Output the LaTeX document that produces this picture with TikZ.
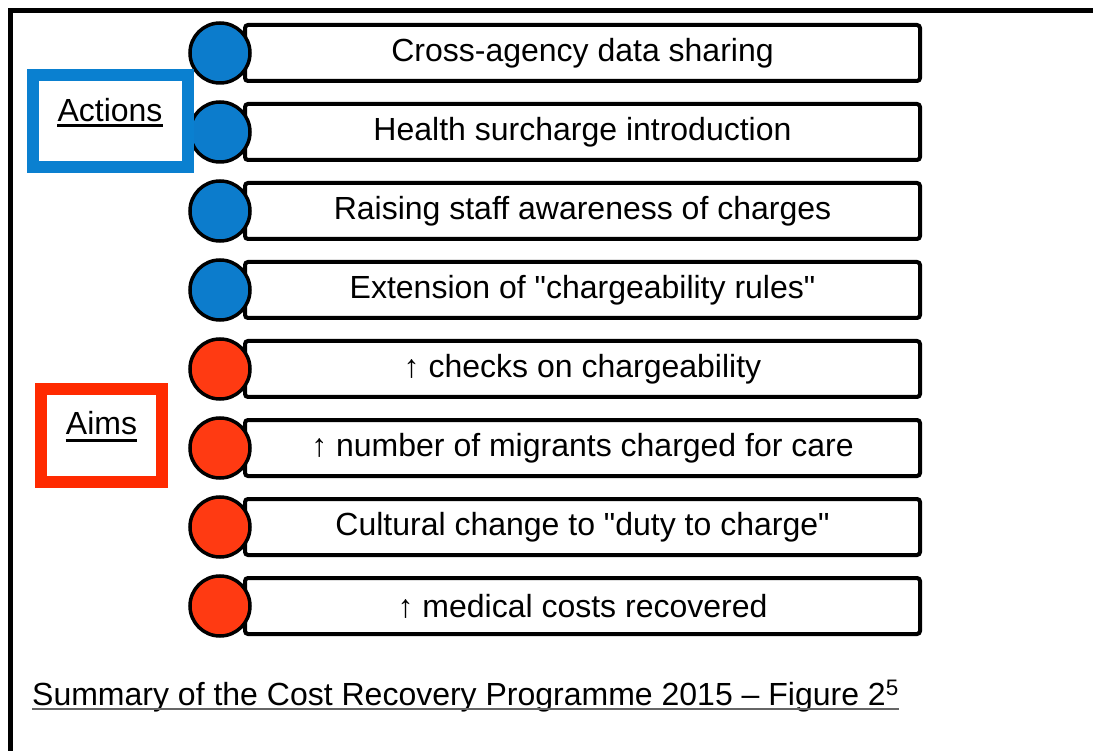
\documentclass[tikz,border=0pt]{standalone}
\usepackage{fontspec}
\setmainfont{Liberation Sans}
\usetikzlibrary{positioning,calc}
\definecolor{actblue}{HTML}{0A80D0}
\definecolor{dotblue}{HTML}{0C7CCC}
\definecolor{aimred}{HTML}{FF2A00}
\definecolor{dotred}{HTML}{FF3A12}
\tikzset{
rowbox/.style={draw,line width=4pt,rounded corners=3pt,fill=white,minimum width=675pt,minimum height=56pt,inner sep=0pt},
rowdot/.style={circle,draw,line width=3.5pt,fill=#1,minimum size=60pt,inner sep=0pt},
keybox/.style={draw=#1,line width=12pt,fill=white},
undl/.style={line width=3pt}
}

\begin{document}
\begin{tikzpicture}[x=1pt,y=-1pt,every node/.append style={font=\fontsize{32}{38}\selectfont}]
\useasboundingbox (0,0) rectangle (1093,751);
%%% frame, top and left side only
\draw[line width=5pt] (10.5,751) -- (10.5,10.5) -- (1093,10.5);
%%% the eight rows, dot on top of the box
\foreach \i/\txt/\col in {1/{Cross-agency data sharing}/dotblue,
                          2/{Health surcharge introduction}/dotblue,
                          3/{Raising staff awareness of charges}/dotblue,
                          4/{Extension of \textquotedbl chargeability rules\textquotedbl}/dotblue,
                          5/{↑ checks on chargeability}/dotred,
                          6/{↑ number of migrants charged for care}/dotred,
                          7/{Cultural change to \textquotedbl duty to charge\textquotedbl}/dotred,
                          8/{↑ medical costs recovered}/dotred}
{
 \node[rowbox] (row\i) at (582.5,{53+79*(\i-1)}) {\txt};
 \node[rowdot=\col] (dot\i) at ($(row\i.west)+(-23,0)$) {};
}
%%% keys
\node[keybox=actblue,minimum width=155pt,minimum height=92pt] (actbox) at (110.5,121) {};
\node[anchor=base,inner sep=0pt] (actions) at (110,122) {Actions};
\draw[undl] ([yshift=-4pt]actions.base west) -- ([yshift=-4pt]actions.base east);
\node[keybox=aimred,minimum width=121pt,minimum height=93pt] (aimbox) at (101.5,435.5) {};
\node[anchor=base,inner sep=0pt] (aims) at (101.5,435) {Aims};
\draw[undl] ([yshift=-5pt]aims.base west) -- ([yshift=-5pt]aims.base east);
%%% caption
\node[anchor=base west,inner sep=0pt] (caption) at (32,705)
  {Summary of the Cost Recovery Programme 2015 – Figure 2\textsuperscript{5}};
\draw[line width=1.5pt,black!60] ([yshift=-4pt]caption.base west) -- ([yshift=-4pt]caption.base east);
\end{tikzpicture}
\end{document}
